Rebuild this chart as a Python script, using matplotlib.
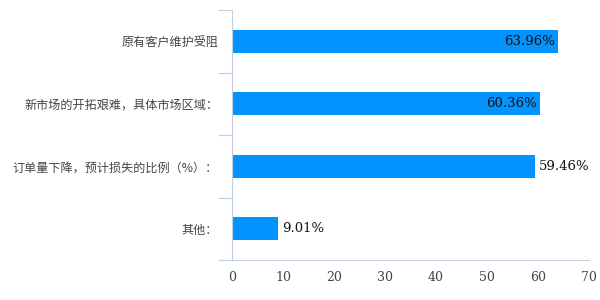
import matplotlib
matplotlib.use('Agg')
import matplotlib.pyplot as plt
import numpy as np

# --- Data ---
categories = ['原有客户维护受阻', '新市场的开拓艰难，具体市场区域：', '订单量下降，预计损失的比例（%）：', '其他：']
values = [63.96, 60.36, 59.46, 9.01]
label_inside = [True, True, False, False]
xticks = [0, 10, 20, 30, 40, 50, 60, 70]

BAR_COLOR = '#0393FF'
AXIS_COLOR = '#C0D0E0'
TEXT_COLOR = '#444444'

fig = plt.figure(figsize=(6, 3), dpi=100)
ax = fig.add_axes([232 / 600, 40 / 300, 357 / 600, 250 / 300])

y = np.arange(len(categories))
ax.barh(y, values, height=0.37, color=BAR_COLOR, zorder=2)
ax.set_ylim(len(categories) - 0.5, -0.5)
ax.set_xlim(0, 70)

for yi, v, inside in zip(y, values, label_inside):
    txt = f'{v:.2f}%'
    if inside:
        ax.text(v - 0.6, yi, txt, ha='right', va='center', fontsize=9.5,
                family='DejaVu Serif', color='#111111', zorder=3)
    else:
        ax.text(v + 0.8, yi, txt, ha='left', va='center', fontsize=9.5,
                family='DejaVu Serif', color='#111111', zorder=3)

# spines
for s in ['top', 'right']:
    ax.spines[s].set_visible(False)
ax.spines['left'].set_color(AXIS_COLOR)
ax.spines['bottom'].set_color(AXIS_COLOR)

# y ticks at band boundaries, labels at centres
ax.set_yticks(np.arange(-0.5, len(categories) + 0.5, 1.0))
ax.set_yticklabels([])
ax.set_yticks(y, minor=True)
ax.set_yticklabels(categories, minor=True, family=['Noto Sans CJK SC', 'DejaVu Sans'],
                   fontsize=8.7, color=TEXT_COLOR)
ax.tick_params(axis='y', which='major', length=10, color=AXIS_COLOR)
ax.tick_params(axis='y', which='minor', length=0, pad=10)

ax.set_xticks(xticks)
ax.set_xticklabels([str(t) for t in xticks], family='DejaVu Serif', fontsize=9, color=TEXT_COLOR)
ax.tick_params(axis='x', length=0, pad=8)

fig.savefig('out.png', dpi=100)
